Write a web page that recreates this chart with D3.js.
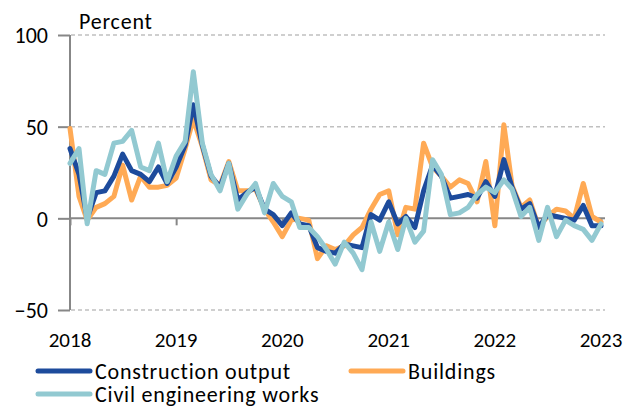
<!DOCTYPE html>
<head>
    <meta charset="utf-8">
    <style>
        body{
            margin:0;
            background-color:white;
        }
        svg{
            display:block;
            background-color:white;
        }
        text{
            font-family: Carlito, Lato, sans-serif;
            fill:#000;
        }
        .words{
            font-size:22px;
            letter-spacing:0.8px;
        }
        .grid{
            stroke:#c0c0c0;
            stroke-width:1.5;
            stroke-dasharray:4 3;
        }
        .axis{
            stroke:#878787;
            stroke-width:2;
        }
        .series{
            fill:none;
            stroke-width:5;
            stroke-linejoin:round;
            stroke-linecap:round;
        }
    </style>
</head>
<body>
<script src="https://d3js.org/d3.v7.min.js"></script>
<script>

const width = 630;
const height = 408;

// monthly, Jan 2018 .. Jan 2023
const startMonth = new Date(2018, 0, 1);

const construction = [
    38, 24, 0, 14, 15, 23, 35, 26, 24, 20, 28, 19,
    28, 40, 62, 40, 23, 17, 30, 10, 14, 17, 5, 2,
    -4, 3, -3, -4, -16, -18, -19, -14, -15, -16, 2, -1,
    9, -3, 1, -5, 15, 29, 23, 11, 12, 13, 11, 20,
    12, 32, 17, 5, 8, -5, 2, 1, 0, -1, 7, -4,
    -4
];

const buildings = [
    49, 12, -1, 6, 8, 12, 29, 10, 23, 17, 17, 18,
    22, 38, 54, 39, 21, 18, 31, 15, 15, 16, 5, -2,
    -10, -1, 0, -1, -22, -15, -17, -15, -9, -5, 5, 13,
    15, -9, 6, 5, 41, 28, 23, 17, 21, 19, 9, 31,
    -4, 51, 18, 6, 10, -5, 1, 5, 4, 0, 19, 1,
    -2
];

const civil = [
    30, 38, -3, 26, 24, 41, 42, 48, 28, 26, 41, 20,
    34, 42, 80, 41, 24, 15, 30, 5, 13, 19, 3, 19,
    12, 9, -5, -5, -10, -17, -25, -13, -19, -28, -2, -18,
    -2, -17, 0, -13, -7, 32, 24, 2, 3, 6, 13, 17,
    14, 21, 16, 1, 6, -12, 6, -10, -1, -4, -6, -12,
    -3
];

const yTicks = [100, 50, 0, -50];
const yearTicks = [2018, 2019, 2020, 2021, 2022, 2023];

const seriesNames = ['Construction output', 'Buildings', 'Civil engineering works'];
const seriesColors = ['#1d4b9c', '#ffaa55', '#92c9d1'];

const svg = d3.select('body').append('svg')
    .attr('width', width)
    .attr('height', height);

const x = d3.scaleTime()
    .domain([new Date(2018, 0, 1), new Date(2023, 0, 1)])
    .range([70, 601]);

const y = d3.scaleLinear()
    .domain([-50, 100])
    .range([310, 35]);

const monthDate = (i) => d3.timeMonth.offset(startMonth, i);

// dashed grid
svg.append('g')
    .selectAll('line')
    .data(yTicks.filter(d => d !== 0))
    .join('line')
        .attr('class', 'grid')
        .attr('x1', x.range()[0] + 1)
        .attr('x2', 605)
        .attr('y1', d => y(d))
        .attr('y2', d => y(d));

// y axis
const yAxis = svg.append('g')
    .attr('transform', `translate(${x.range()[0]},0)`)
    .call(d3.axisLeft(y).tickValues(yTicks).tickSize(12).tickPadding(10).tickFormat(d3.format('d')));
yAxis.select('.domain').remove();
yAxis.selectAll('line').attr('class', 'axis');
yAxis.selectAll('text')
    .style('font-size', '22px')
    .attr('dy', '0.36em');
svg.append('line')
    .attr('class', 'axis')
    .attr('x1', x.range()[0])
    .attr('x2', x.range()[0])
    .attr('y1', y(100))
    .attr('y2', y(-50));

svg.append('text')
    .attr('class', 'words')
    .attr('x', 79)
    .attr('y', 29)
    .text('Percent');

// zero line with year ticks
const xAxis = svg.append('g')
    .attr('transform', `translate(0,${y(0)})`)
    .call(d3.axisBottom(x)
        .tickValues(yearTicks.map(d => new Date(d, 0, 1)))
        .tickSize(7)
        .tickFormat(''));
xAxis.select('.domain').remove();
xAxis.selectAll('line').attr('class', 'axis');
svg.append('line')
    .attr('class', 'axis')
    .attr('x1', x.range()[0])
    .attr('x2', 605)
    .attr('y1', y(0))
    .attr('y2', y(0));

// year labels below the plot
svg.append('g')
    .selectAll('text')
    .data(yearTicks)
    .join('text')
        .attr('x', d => x(new Date(d, 0, 1)))
        .attr('y', 347)
        .attr('text-anchor', 'middle')
        .style('font-size', '21px')
        .text(d => d);

// series
const line = d3.line()
    .x((d, i) => x(monthDate(i)))
    .y(d => y(d));

const drawOrder = [1, 0, 2];
const allSeries = [construction, buildings, civil];
drawOrder.forEach((s) => {
    svg.append('path')
        .attr('class', 'series')
        .attr('d', line(allSeries[s]))
        .style('stroke', seriesColors[s]);
});

// legend
const legendItems = [
    {name: seriesNames[0], color: seriesColors[0], x: 38, y: 371},
    {name: seriesNames[1], color: seriesColors[1], x: 351, y: 371},
    {name: seriesNames[2], color: seriesColors[2], x: 38, y: 394}
];
const legend = svg.append('g')
    .selectAll('g')
    .data(legendItems)
    .join('g')
        .attr('transform', d => `translate(${d.x},${d.y})`);
legend.append('line')
    .attr('x1', 0)
    .attr('x2', 52)
    .attr('y1', 0)
    .attr('y2', 0)
    .style('stroke', d => d.color)
    .style('stroke-width', 5)
    .style('stroke-linecap', 'round');
legend.append('text')
    .attr('class', 'words')
    .attr('x', 57)
    .attr('y', 0)
    .attr('dy', '0.35em')
    .text(d => d.name);

</script>
</body>
</html>
